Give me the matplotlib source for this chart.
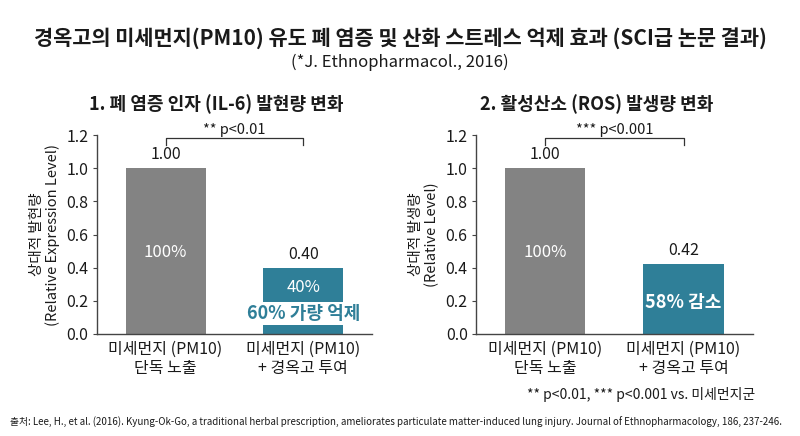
import matplotlib
matplotlib.use("Agg")
import matplotlib.pyplot as plt

plt.rcParams['font.family'] = ['Noto Sans CJK KR', 'DejaVu Sans']

categories = ["미세먼지 (PM10)\n단독 노출", "미세먼지 (PM10)\n+ 경옥고 투여"]
il6_values = [1.00, 0.40]
ros_values = [1.00, 0.42]
il6_pct = ["100%", "40%"]
ros_pct = ["100%", ""]
titles = ["1. 폐 염증 인자 (IL-6) 발현량 변화", "2. 활성산소 (ROS) 발생량 변화"]
ylabels = ["상대적 발현량\n(Relative Expression Level)", "상대적 발생량\n(Relative Level)"]
sig_labels = ["** p<0.01", "*** p<0.001"]
yticks = [0.0, 0.2, 0.4, 0.6, 0.8, 1.0, 1.2]

gray = "#838383"
teal = "#2f7f98"
dark = "#1a1a1a"

fig = plt.figure(figsize=(8, 4.36), dpi=100)
fig.patch.set_facecolor("white")

ax1 = fig.add_axes([0.121, 0.234, 0.344, 0.456])
ax2 = fig.add_axes([0.595, 0.234, 0.346, 0.456])

for i, (ax, vals, pcts) in enumerate([(ax1, il6_values, il6_pct), (ax2, ros_values, ros_pct)]):
    x = list(range(len(categories)))
    ax.bar(x, vals, width=0.58, color=[gray, teal], zorder=2)
    ax.set_xlim(-0.5, 1.5)
    ax.set_ylim(0, 1.2)
    ax.set_yticks(yticks)
    ax.set_yticklabels([f"{t:.1f}" for t in yticks], fontsize=11.5, color=dark)
    ax.set_xticks(x)
    ax.set_xticklabels(categories, fontsize=11.5, color=dark, linespacing=1.15)
    ax.tick_params(axis='x', length=0, pad=5)
    ax.tick_params(axis='y', length=3, color="#444444", pad=3)
    for s in ["top", "right"]:
        ax.spines[s].set_visible(False)
    for s in ["left", "bottom"]:
        ax.spines[s].set_color("#444444")
        ax.spines[s].set_linewidth(1.0)
    ax.set_ylabel(ylabels[i], fontsize=10.5, color=dark, linespacing=1.1, labelpad=5)
    ax.set_title(titles[i], fontsize=13, fontweight='bold', color=dark, pad=18, x=0.435)
    for xi, v in zip(x, vals):
        ax.text(xi, v + 0.03, f"{v:.2f}", ha='center', va='bottom', fontsize=11.5, color=dark)
    ax.text(0, 0.49, pcts[0], ha='center', va='center', fontsize=12, color='white')
    # significance bracket
    ax.plot([0, 0, 1, 1], [1.14, 1.18, 1.18, 1.14], color="#333333", lw=0.9, clip_on=False)
    ax.text(0.5, 1.19, sig_labels[i], ha='center', va='bottom', fontsize=10.5, color=dark)

ax1.text(1, 0.28, il6_pct[1], ha='center', va='center', fontsize=12, color='white')
ax1.text(1, 0.125, "60% 가량 억제", ha='center', va='center', fontsize=13, fontweight='bold',
         color=teal, zorder=3,
         bbox=dict(boxstyle='square,pad=0.12', facecolor='white', edgecolor='none'))
ax2.text(1, 0.19, "58% 감소", ha='center', va='center', fontsize=13, fontweight='bold', color='white')

fig.text(0.5, 1 - 38 / 436, "경옥고의 미세먼지(PM10) 유도 폐 염증 및 산화 스트레스 억제 효과 (SCI급 논문 결과)",
         ha='center', va='center', fontsize=15, fontweight='bold', color=dark)
fig.text(0.5, 1 - 62 / 436, "(*J. Ethnopharmacol., 2016)", ha='center', va='center', fontsize=12, color=dark)
fig.text(755 / 800, 1 - 395 / 436, "** p<0.01, *** p<0.001 vs. 미세먼지군", ha='right', va='center',
         fontsize=10, color=dark)
fig.text(10 / 800, 1 - 422 / 436,
         "출처: Lee, H., et al. (2016). Kyung-Ok-Go, a traditional herbal prescription, ameliorates particulate matter-induced lung injury. Journal of Ethnopharmacology, 186, 237-246.",
         ha='left', va='center', fontsize=7.0, color=dark)

fig.savefig("out.png", dpi=100, facecolor="white")
